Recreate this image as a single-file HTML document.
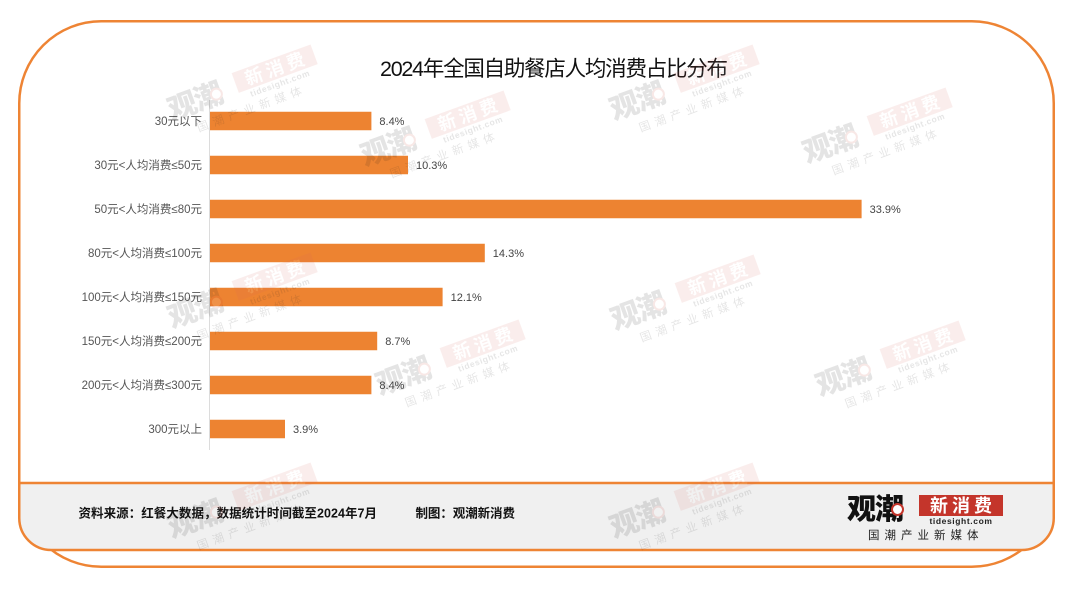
<!DOCTYPE html>
<html><head><meta charset="utf-8">
<style>
html,body{margin:0;padding:0;background:#fff;}
#wrap{position:relative;width:1080px;height:590px;overflow:hidden;background:#fff;font-family:"Liberation Sans","Noto Sans CJK SC",sans-serif;}
svg{position:absolute;left:0;top:0;}
.lg{position:absolute;width:164px;height:47px;}
.lg .a{position:absolute;left:-1px;top:-5px;font:900 29px/34px "Noto Sans CJK SC",sans-serif;letter-spacing:-1px;color:#111;white-space:nowrap;}
.lg .e{position:absolute;left:43px;top:8px;width:9px;height:9px;border:2.5px solid #c4352b;border-radius:50%;background:#fff;}
.lg .b{position:absolute;left:71px;top:0;width:84px;height:21px;background:#c4352b;color:#fff;font:bold 18px/21px "Noto Sans CJK SC",sans-serif;text-align:center;letter-spacing:4px;text-indent:4px;white-space:nowrap;}
.lg .c{position:absolute;left:71px;top:21px;width:84px;font:bold 8.5px/10px "Liberation Sans",sans-serif;color:#222;text-align:center;letter-spacing:0.6px;white-space:nowrap;}
.lg .d{position:absolute;left:20px;top:33px;font:11.5px/14px "Noto Sans CJK SC",sans-serif;letter-spacing:5px;color:#222;white-space:nowrap;}
.wm{opacity:0.11;transform:rotate(-20deg);transform-origin:50% 50%;}
.wm .b{background:#d9675e;}
</style></head>
<body><div id="wrap">
<svg width="1080" height="590" viewBox="0 0 1080 590" xmlns="http://www.w3.org/2000/svg">
  <rect x="19.25" y="21.25" width="1034.5" height="545.5" rx="82" ry="82" fill="#fff" stroke="#ee8434" stroke-width="2.5"/>
  <path d="M19.25 483 L1053.75 483 L1053.75 518 A32 32 0 0 1 1021.75 550 L51.25 550 A32 32 0 0 1 19.25 518 Z" fill="#f0f0f0" stroke="#ee8434" stroke-width="2.5"/>
  <text x="380" y="76" font-family="Liberation Sans, Noto Sans CJK SC, sans-serif" font-size="21.5" fill="#111" textLength="348" lengthAdjust="spacing">2024年全国自助餐店人均消费占比分布</text>
  <line x1="209.5" y1="100" x2="209.5" y2="450" stroke="#dcdcdc" stroke-width="1"/>
  <g fill="#ed8331">
    <rect x="210" y="111.75" width="161.4" height="18.5"/>
    <rect x="210" y="155.75" width="198.0" height="18.5"/>
    <rect x="210" y="199.75" width="651.6" height="18.5"/>
    <rect x="210" y="243.75" width="274.8" height="18.5"/>
    <rect x="210" y="287.75" width="232.6" height="18.5"/>
    <rect x="210" y="331.75" width="167.2" height="18.5"/>
    <rect x="210" y="375.75" width="161.4" height="18.5"/>
    <rect x="210" y="419.75" width="75.0" height="18.5"/>
  </g>
  <g font-family="Liberation Sans, Noto Sans CJK SC, sans-serif" font-size="11.5" fill="#555" text-anchor="end">
    <text x="202" y="125">30元以下</text>
    <text x="202" y="169">30元&lt;人均消费≤50元</text>
    <text x="202" y="213">50元&lt;人均消费≤80元</text>
    <text x="202" y="257">80元&lt;人均消费≤100元</text>
    <text x="202" y="301">100元&lt;人均消费≤150元</text>
    <text x="202" y="345">150元&lt;人均消费≤200元</text>
    <text x="202" y="389">200元&lt;人均消费≤300元</text>
    <text x="202" y="433">300元以上</text>
  </g>
  <g font-family="Liberation Sans, sans-serif" font-size="11" fill="#444">
    <text x="379.4" y="125">8.4%</text>
    <text x="416.0" y="169">10.3%</text>
    <text x="869.6" y="213">33.9%</text>
    <text x="492.8" y="257">14.3%</text>
    <text x="450.6" y="301">12.1%</text>
    <text x="385.2" y="345">8.7%</text>
    <text x="379.4" y="389">8.4%</text>
    <text x="293.0" y="433">3.9%</text>
  </g>
  <g font-family="Liberation Sans, Noto Sans CJK SC, sans-serif" font-size="12.5" font-weight="bold" fill="#111">
    <text x="78.5" y="517.5" textLength="298.5" lengthAdjust="spacing">资料来源：红餐大数据，数据统计时间截至2024年7月</text>
    <text x="415.5" y="517.5" textLength="99.5" lengthAdjust="spacing">制图：观潮新消费</text>
  </g>
</svg>

<!-- footer logo -->
<div class="lg" style="left:848px;top:495px;">
  <div class="a">观潮</div><div class="e"></div>
  <div class="b">新消费</div>
  <div class="c">tidesight.com</div>
  <div class="d">国潮产业新媒体</div>
</div>

<!-- watermarks -->
<div class="lg wm" style="left:168px;top:68px;"><div class="a">观潮</div><div class="e"></div><div class="b">新消费</div><div class="c">tidesight.com</div><div class="d">国潮产业新媒体</div></div>
<div class="lg wm" style="left:361px;top:114px;"><div class="a">观潮</div><div class="e"></div><div class="b">新消费</div><div class="c">tidesight.com</div><div class="d">国潮产业新媒体</div></div>
<div class="lg wm" style="left:610px;top:68px;"><div class="a">观潮</div><div class="e"></div><div class="b">新消费</div><div class="c">tidesight.com</div><div class="d">国潮产业新媒体</div></div>
<div class="lg wm" style="left:803px;top:111px;"><div class="a">观潮</div><div class="e"></div><div class="b">新消费</div><div class="c">tidesight.com</div><div class="d">国潮产业新媒体</div></div>
<div class="lg wm" style="left:168px;top:276px;"><div class="a">观潮</div><div class="e"></div><div class="b">新消费</div><div class="c">tidesight.com</div><div class="d">国潮产业新媒体</div></div>
<div class="lg wm" style="left:376px;top:343px;"><div class="a">观潮</div><div class="e"></div><div class="b">新消费</div><div class="c">tidesight.com</div><div class="d">国潮产业新媒体</div></div>
<div class="lg wm" style="left:611px;top:278px;"><div class="a">观潮</div><div class="e"></div><div class="b">新消费</div><div class="c">tidesight.com</div><div class="d">国潮产业新媒体</div></div>
<div class="lg wm" style="left:816px;top:344px;"><div class="a">观潮</div><div class="e"></div><div class="b">新消费</div><div class="c">tidesight.com</div><div class="d">国潮产业新媒体</div></div>
<div class="lg wm" style="left:168px;top:486px;"><div class="a">观潮</div><div class="e"></div><div class="b">新消费</div><div class="c">tidesight.com</div><div class="d">国潮产业新媒体</div></div>
<div class="lg wm" style="left:610px;top:486px;"><div class="a">观潮</div><div class="e"></div><div class="b">新消费</div><div class="c">tidesight.com</div><div class="d">国潮产业新媒体</div></div>
</div></body></html>
